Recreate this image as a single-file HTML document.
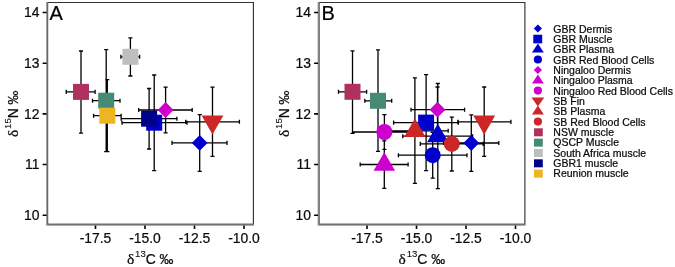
<!DOCTYPE html>
<html><head><meta charset="utf-8"><title>Figure</title>
<style>
html,body{margin:0;padding:0;background:#fff;overflow:hidden}
svg{display:block;will-change:transform;transform:translateZ(0)}
text{font-family:"Liberation Sans",sans-serif;fill:#0a0a0a;stroke:#0a0a0a;stroke-width:.22px}
.t{font-size:13.9px}
.p{font-size:20px;fill:#000;stroke:#000;stroke-width:.2px}
.l{font-size:13.9px}
.g{font-family:"Liberation Serif",serif;font-size:15.4px}
.s{font-size:9.6px;stroke-width:.08px}
.k{font-size:10.5px}
</style></head><body>
<svg width="675" height="267" viewBox="0 0 675 267">
<rect width="675" height="267" fill="#fff"/>
<path d="M199.70 114.60V171.30M197.65 114.60h4.1M197.65 171.30h4.1M172.00 142.90H227.00M172.00 140.85v4.1M227.00 140.85v4.1M154.20 75.00V170.60M152.15 75.00h4.1M152.15 170.60h4.1M122.00 122.70H187.00M122.00 120.65v4.1M187.00 120.65v4.1M165.60 87.20V132.80M163.55 87.20h4.1M163.55 132.80h4.1M138.70 110.00H192.20M138.70 107.95v4.1M192.20 107.95v4.1M212.50 87.20V156.30M210.45 87.20h4.1M210.45 156.30h4.1M185.70 121.80H239.40M185.70 119.75v4.1M239.40 119.75v4.1M81.00 51.00V133.10M78.95 51.00h4.1M78.95 133.10h4.1M66.20 91.90H95.10M66.20 89.85v4.1M95.10 89.85v4.1M106.20 49.70V151.70M104.15 49.70h4.1M104.15 151.70h4.1M92.50 100.70H120.00M92.50 98.65v4.1M120.00 98.65v4.1M130.40 37.90V76.00M128.35 37.90h4.1M128.35 76.00h4.1M120.90 56.80H139.60M120.90 54.75v4.1M139.60 54.75v4.1M149.10 88.50V149.00M147.05 88.50h4.1M147.05 149.00h4.1M121.20 118.70H176.90M121.20 116.65v4.1M176.90 116.65v4.1M107.30 79.70V151.70M105.25 79.70h4.1M105.25 151.70h4.1M93.60 115.70H121.10M93.60 113.65v4.1M121.10 113.65v4.1" stroke="#000" stroke-width="1.3" fill="none"/>
<polygon points="199.70,135.00 207.60,142.90 199.70,150.80 191.80,142.90" fill="#0000CD"/>
<rect x="146.20" y="114.70" width="16.00" height="16.00" fill="#0000CD"/>
<polygon points="165.60,102.10 173.50,110.00 165.60,117.90 157.70,110.00" fill="#CD00CD"/>
<polygon points="212.50,134.53 223.40,115.43 201.60,115.43" fill="#CD2626"/>
<rect x="73.00" y="83.90" width="16.00" height="16.00" fill="#B03060"/>
<rect x="98.20" y="92.70" width="16.00" height="16.00" fill="#458B74"/>
<rect x="122.40" y="48.80" width="16.00" height="16.00" fill="#BEBEBE"/>
<rect x="141.10" y="110.70" width="16.00" height="16.00" fill="#00008B"/>
<rect x="99.30" y="107.70" width="16.00" height="16.00" fill="#EEB422"/>
<path d="M47.1 2.5H253.4V224.75" stroke="#333" stroke-width="1.15" fill="none"/>
<path d="M47.1 2.0V224.75H253.9" stroke="#929292" stroke-width="1.9" fill="none"/>
<path d="M47.75 2.5V224.1H253.4" stroke="#444" stroke-width="0.7" fill="none"/>
<path d="M42.6 12.55H46.6M42.6 63.25H46.6M42.6 113.85H46.6M42.6 164.55H46.6M42.6 215.25H46.6M95.5 225.55V228.95M145.0 225.55V228.95M194.5 225.55V228.95M244.0 225.55V228.95" stroke="#000" stroke-width="1.6" fill="none"/>
<text x="39.5" y="17.4" text-anchor="end" class="t">14</text>
<text x="39.5" y="68.1" text-anchor="end" class="t">13</text>
<text x="39.5" y="118.7" text-anchor="end" class="t">12</text>
<text x="39.5" y="169.4" text-anchor="end" class="t">11</text>
<text x="39.5" y="220.1" text-anchor="end" class="t">10</text>
<text x="95.5" y="242.6" text-anchor="middle" class="t">-17.5</text>
<text x="145.0" y="242.6" text-anchor="middle" class="t">-15.0</text>
<text x="194.5" y="242.6" text-anchor="middle" class="t">-12.5</text>
<text x="244.0" y="242.6" text-anchor="middle" class="t">-10.0</text>
<text x="49.4" y="19.5" class="p">A</text>
<text x="150.2" y="264.3" text-anchor="middle" class="l"><tspan class="g">δ</tspan><tspan class="s" dx="0.9" dy="-7.1">13</tspan><tspan dy="7.1">C ‰</tspan></text>
<text transform="translate(17.7 113.8) rotate(-90)" text-anchor="middle" class="l"><tspan class="g">δ</tspan><tspan class="s" dx="0.9" dy="-7.1">15</tspan><tspan dy="7.1">N ‰</tspan></text>
<path d="M471.30 114.90V171.30M469.25 114.90h4.1M469.25 171.30h4.1M443.50 143.00H498.80M443.50 140.95v4.1M498.80 140.95v4.1M426.10 74.70V170.70M424.05 74.70h4.1M424.05 170.70h4.1M393.60 122.60H458.40M393.60 120.55v4.1M458.40 120.55v4.1M437.80 83.50V188.60M435.75 83.50h4.1M435.75 188.60h4.1M402.80 136.20H472.60M402.80 134.15v4.1M472.60 134.15v4.1M432.70 132.40V178.20M430.65 132.40h4.1M430.65 178.20h4.1M398.40 155.20H467.00M398.40 153.15v4.1M467.00 153.15v4.1M437.50 87.00V132.60M435.45 87.00h4.1M435.45 132.60h4.1M411.00 109.70H464.60M411.00 107.65v4.1M464.60 107.65v4.1M384.30 140.80V188.30M382.25 140.80h4.1M382.25 188.30h4.1M360.20 164.50H408.10M360.20 162.45v4.1M408.10 162.45v4.1M384.40 114.70V149.40M382.35 114.70h4.1M382.35 149.40h4.1M352.50 132.00H416.30M352.50 129.95v4.1M416.30 129.95v4.1M484.20 87.00V156.40M482.15 87.00h4.1M482.15 156.40h4.1M457.80 121.90H510.90M457.80 119.85v4.1M510.90 119.85v4.1M414.90 77.90V183.30M412.85 77.90h4.1M412.85 183.30h4.1M381.60 130.80H448.20M381.60 128.75v4.1M448.20 128.75v4.1M451.80 117.10V171.00M449.75 117.10h4.1M449.75 171.00h4.1M420.30 143.90H483.20M420.30 141.85v4.1M483.20 141.85v4.1M352.50 50.90V133.30M350.45 50.90h4.1M350.45 133.30h4.1M338.50 91.80H366.60M338.50 89.75v4.1M366.60 89.75v4.1M378.00 49.80V151.30M375.95 49.80h4.1M375.95 151.30h4.1M364.80 100.80H391.70M364.80 98.75v4.1M391.70 98.75v4.1" stroke="#000" stroke-width="1.3" fill="none"/>
<polygon points="471.30,135.10 479.20,143.00 471.30,150.90 463.40,143.00" fill="#0000CD"/>
<rect x="418.10" y="114.60" width="16.00" height="16.00" fill="#0000CD"/>
<polygon points="437.80,123.87 448.55,142.37 427.05,142.37" fill="#0000CD"/>
<circle cx="432.70" cy="155.20" r="8.00" fill="#0000CD"/>
<polygon points="437.50,101.80 445.40,109.70 437.50,117.60 429.60,109.70" fill="#CD00CD"/>
<polygon points="384.30,152.17 395.05,170.67 373.55,170.67" fill="#CD00CD"/>
<circle cx="384.40" cy="132.00" r="8.00" fill="#CD00CD"/>
<polygon points="484.20,134.63 495.10,115.53 473.30,115.53" fill="#CD2626"/>
<polygon points="414.90,118.47 425.65,136.97 404.15,136.97" fill="#CD2626"/>
<circle cx="451.80" cy="143.90" r="8.00" fill="#CD2626"/>
<rect x="344.50" y="83.80" width="16.00" height="16.00" fill="#B03060"/>
<rect x="370.00" y="92.80" width="16.00" height="16.00" fill="#458B74"/>
<path d="M318.6 2.5H524.9000000000001V224.75" stroke="#333" stroke-width="1.15" fill="none"/>
<path d="M318.6 2.0V224.75H525.4000000000001" stroke="#929292" stroke-width="1.9" fill="none"/>
<path d="M319.25 2.5V224.1H524.9000000000001" stroke="#444" stroke-width="0.7" fill="none"/>
<path d="M314.1 12.55H318.1M314.1 63.25H318.1M314.1 113.85H318.1M314.1 164.55H318.1M314.1 215.25H318.1M367.0 225.55V228.95M416.5 225.55V228.95M466.0 225.55V228.95M515.5 225.55V228.95" stroke="#000" stroke-width="1.6" fill="none"/>
<text x="311.0" y="17.4" text-anchor="end" class="t">14</text>
<text x="311.0" y="68.1" text-anchor="end" class="t">13</text>
<text x="311.0" y="118.7" text-anchor="end" class="t">12</text>
<text x="311.0" y="169.4" text-anchor="end" class="t">11</text>
<text x="311.0" y="220.1" text-anchor="end" class="t">10</text>
<text x="367.0" y="242.6" text-anchor="middle" class="t">-17.5</text>
<text x="416.5" y="242.6" text-anchor="middle" class="t">-15.0</text>
<text x="466.0" y="242.6" text-anchor="middle" class="t">-12.5</text>
<text x="515.5" y="242.6" text-anchor="middle" class="t">-10.0</text>
<text x="321.5" y="19.5" class="p">B</text>
<text x="421.8" y="264.3" text-anchor="middle" class="l"><tspan class="g">δ</tspan><tspan class="s" dx="0.9" dy="-7.1">13</tspan><tspan dy="7.1">C ‰</tspan></text>
<text transform="translate(289.2 113.8) rotate(-90)" text-anchor="middle" class="l"><tspan class="g">δ</tspan><tspan class="s" dx="0.9" dy="-7.1">15</tspan><tspan dy="7.1">N ‰</tspan></text>
<polygon points="537.90,24.60 542.00,28.60 537.90,32.60 533.80,28.60" fill="#0000CD"/>
<text x="553.3" y="32.50" class="k">GBR Dermis</text>
<rect x="533.30" y="34.74" width="8.9" height="8.6" fill="#0000CD"/>
<text x="553.3" y="42.84" class="k">GBR Muscle</text>
<polygon points="537.90,43.58 543.85,52.38 531.95,52.38" fill="#0000CD"/>
<text x="553.3" y="53.18" class="k">GBR Plasma</text>
<circle cx="537.90" cy="59.52" r="4.1" fill="#0000CD"/>
<text x="553.3" y="63.52" class="k">GBR Red Blood Cells</text>
<polygon points="537.90,65.96 542.00,69.96 537.90,73.96 533.80,69.96" fill="#CD00CD"/>
<text x="553.3" y="73.86" class="k">Ningaloo Dermis</text>
<polygon points="537.90,74.60 543.85,83.40 531.95,83.40" fill="#CD00CD"/>
<text x="553.3" y="84.20" class="k">Ningaloo Plasma</text>
<circle cx="537.90" cy="90.54" r="4.1" fill="#CD00CD"/>
<text x="553.3" y="94.54" class="k">Ningaloo Red Blood Cells</text>
<polygon points="537.90,106.58 544.30,97.38 531.50,97.38" fill="#CD2626"/>
<text x="553.3" y="104.88" class="k">SB Fin</text>
<polygon points="537.90,105.62 543.85,114.42 531.95,114.42" fill="#CD2626"/>
<text x="553.3" y="115.22" class="k">SB Plasma</text>
<circle cx="537.90" cy="121.56" r="4.1" fill="#CD2626"/>
<text x="553.3" y="125.56" class="k">SB Red Blood Cells</text>
<rect x="534.00" y="128.30" width="8.8" height="8.0" fill="#B03060"/>
<text x="553.3" y="135.90" class="k">NSW muscle</text>
<rect x="534.00" y="138.64" width="8.8" height="8.0" fill="#458B74"/>
<text x="553.3" y="146.24" class="k">QSCP Muscle</text>
<rect x="534.00" y="148.98" width="8.8" height="8.0" fill="#BEBEBE"/>
<text x="553.3" y="156.58" class="k">South Africa muscle</text>
<rect x="534.00" y="159.32" width="8.8" height="8.0" fill="#00008B"/>
<text x="553.3" y="166.92" class="k">GBR1 muscle</text>
<rect x="534.00" y="169.66" width="8.8" height="8.0" fill="#EEB422"/>
<text x="553.3" y="177.26" class="k">Reunion muscle</text>
</svg>
</body></html>
